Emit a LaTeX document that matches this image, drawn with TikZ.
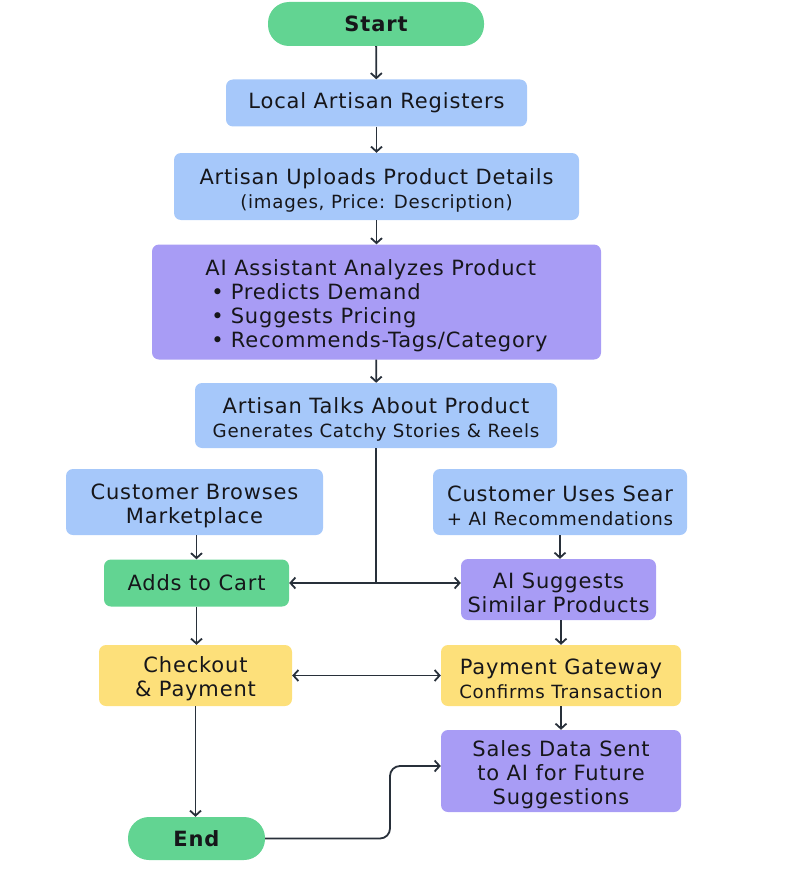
\documentclass[tikz,border=0pt]{standalone}
\usepackage{fontspec}
\setmainfont[LetterSpace=4]{DejaVu Sans}
\usepackage{tikz}
\usetikzlibrary{arrows.meta,positioning}

\definecolor{startgreen}{RGB}{98,212,146}
\definecolor{stepblue}{RGB}{166,200,250}
\definecolor{aipurple}{RGB}{168,156,245}
\definecolor{payyellow}{RGB}{253,224,122}
\definecolor{arrowgray}{RGB}{40,48,58}
\definecolor{inkblack}{RGB}{22,22,26}

\newcommand{\subline}{\fontsize{18.2}{24}\selectfont}
\newcommand{\pushdown}{\rule{0pt}{23pt}}

\begin{document}
\begin{tikzpicture}[x=1pt,y=-1pt]
            \tikzset{box/.style = {rectangle, rounded corners=7pt, inner sep=0pt, align=center, text=inkblack,
            font=\fontsize{21}{24}\selectfont}}
            \tikzset{bluebox/.style = {box, fill=stepblue}}
            \tikzset{purplebox/.style = {box, fill=aipurple}}
            \tikzset{yellowbox/.style = {box, fill=payyellow}}
            \tikzset{greenbox/.style = {box, fill=startgreen}}
            \tikzset{terminal/.style = {greenbox, rounded corners=21pt, font=\fontsize{21}{24}\selectfont\bfseries}}
            \tikzset{edge/.style = {-{Straight Barb[length=5pt,width=11pt]}, draw=arrowgray, line width=1.8pt}}
            \tikzset{twoway/.style = {{Straight Barb[length=5pt,width=11pt]}-{Straight Barb[length=5pt,width=11pt]},
            draw=arrowgray, line width=1.8pt}}

            \useasboundingbox (0,0) rectangle (799,880);

            \node[terminal, minimum width=216, minimum height=44] (start) at (376,24) {Start};
            \node[bluebox, minimum width=301, minimum height=47] (register) at (376.5,103) {Local Artisan Registers};
            \node[bluebox, minimum width=405, minimum height=67] (upload) at (376.5,186.5)
                {\pushdown Artisan Uploads Product Details\\{\subline(images, Price: Description)}};
            \node[purplebox, minimum width=449, minimum height=115, align=left] (analyze) at (376.5,302)
                {\pushdown AI Assistant Analyzes Product\\
                \hspace{6pt}\textbullet\hspace{7pt}Predicts Demand\\
                \hspace{6pt}\textbullet\hspace{7pt}Suggests Pricing\\
                \hspace{6pt}\textbullet\hspace{7pt}Recommends-Tags/Category};
            \node[bluebox, minimum width=362, minimum height=65] (talks) at (376,415.5)
                {\pushdown Artisan Talks About Product\\{\subline Generates Catchy Stories \& Reels}};

            \node[bluebox, minimum width=257, minimum height=66] (browse) at (194.5,502)
                {\pushdown Customer Browses\\Marketplace};
            \node[bluebox, minimum width=254, minimum height=66] (search) at (560,502)
                {\pushdown Customer Uses Sear\\{\subline + AI Recommendations}};
            \node[greenbox, minimum width=185, minimum height=47] (cart) at (196.5,583) {Adds to Cart};
            \node[purplebox, minimum width=195, minimum height=61] (suggest) at (558.5,589.5)
                {\pushdown AI Suggests\\Similar Products};

            \node[yellowbox, minimum width=193, minimum height=61] (checkout) at (195.5,675.5)
                {\pushdown Checkout\\\& Payment};
            \node[yellowbox, minimum width=240, minimum height=61] (gateway) at (561,675.5)
                {\pushdown Payment Gateway\\{\subline Confirms Transaction}};
            \node[purplebox, minimum width=240, minimum height=82] (sales) at (561,771)
                {\pushdown Sales Data Sent\\to AI for Future\\Suggestions};
            \node[terminal, minimum width=137, minimum height=43] (finish) at (196.5,838.5) {End};

            \coordinate (split) at (talks.south |- cart);
            \coordinate (bend) at (390,838.5);

            \draw[edge] (start) to (register);
            \draw[edge] (register) to (upload);
            \draw[edge] (upload) to (analyze);
            \draw[edge] (analyze) to (talks);

            \draw[arrowgray, line width=1.8pt] (talks) to (split);
            \draw[edge] (split) to (cart);
            \draw[edge] (split) to (suggest.west |- split);

            \draw[edge] (cart.north |- browse.south) to (cart);
            \draw[edge] (search) to (suggest.north -| search.south);
            \draw[edge] (cart) to (checkout.north -| cart);
            \draw[edge] (suggest.south -| gateway.north) to (gateway);
            \draw[edge] (gateway) to (sales);
            \draw[twoway] (checkout) to (gateway);
            \draw[edge] (checkout) to (finish.north -| checkout);
            \draw[edge, rounded corners=10pt] (finish) -- (bend) |- ([yshift=5pt]sales.west);
\end{tikzpicture}
\end{document}
